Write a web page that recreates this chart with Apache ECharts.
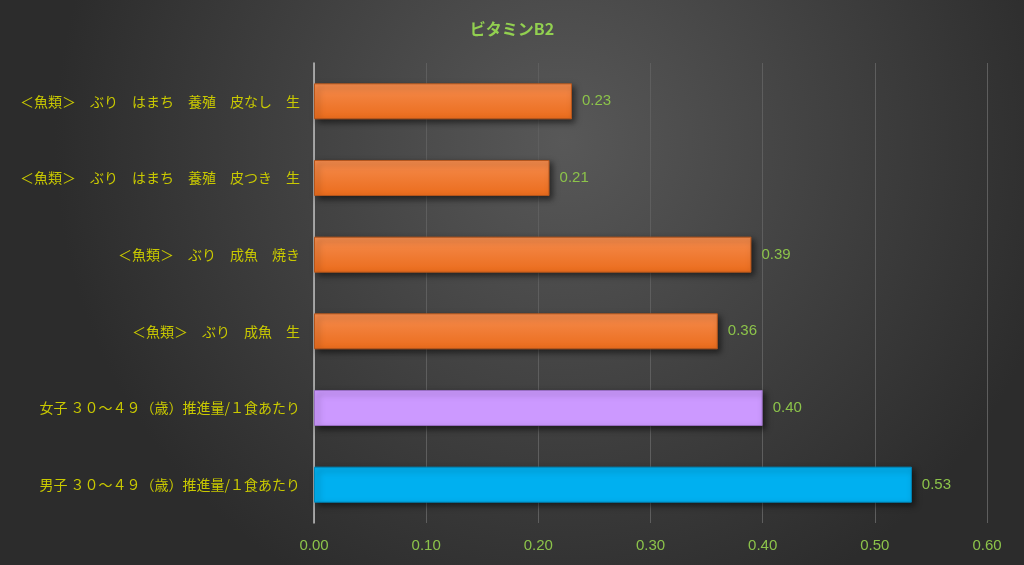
<!DOCTYPE html>
<html>
<head>
<meta charset="utf-8">
<script src="https://cdn.jsdelivr.net/npm/echarts@6/dist/echarts.min.js"></script>
<style>
  html, body { margin: 0; padding: 0; }
  #chart { width: 1024px; height: 565px; }
</style>
</head>
<body>
<div id="chart"></div>
<script>
  // top to bottom, as in the picture
  const categories = [
    "＜魚類＞　ぶり　はまち　養殖　皮なし　生",
    "＜魚類＞　ぶり　はまち　養殖　皮つき　生",
    "＜魚類＞　ぶり　成魚　焼き",
    "＜魚類＞　ぶり　成魚　生",
    "女子 ３０～４９（歳）推進量/１食あたり",
    "男子 ３０～４９（歳）推進量/１食あたり",
  ];
  const values = [0.23, 0.21, 0.39, 0.36, 0.4, 0.533];
  const xTicks = [0, 0.1, 0.2, 0.3, 0.4, 0.5, 0.6];

  const orange = new echarts.graphic.LinearGradient(0, 0, 0, 1, [
    { offset: 0, color: "#f58c4e" },
    { offset: 1, color: "#eb6c1c" },
  ]);
  const barColors = [orange, orange, orange, orange, "#cc99ff", "#00b0f0"];
  const borderColors = ["#b4561d", "#b4561d", "#b4561d", "#b4561d", "#9a6fc4", "#0088bb"];

  let myChart = echarts.init(document.getElementById("chart"));
  let option = {
    backgroundColor: new echarts.graphic.RadialGradient(0.55, 0.25, 0.9, [
      { offset: 0, color: "#585858" },
      { offset: 1, color: "#2c2c2c" },
    ]),
    textStyle: {
      fontFamily: "Noto Sans CJK JP",
    },
    title: {
      text: "ビタミンB2",
      left: "center",
      top: 16,
      textStyle: {
        color: "#92d050",
        fontSize: 16,
        fontWeight: "bold",
        fontFamily: "Noto Sans CJK JP",
      },
    },
    grid: {
      left: 314,
      right: 37,
      top: 63,
      bottom: 42,
      containLabel: false,
    },
    xAxis: {
      type: "value",
      min: 0,
      max: 0.6,
      interval: 0.1,
      axisLine: { show: false },
      axisTick: { show: false },
      axisLabel: {
        color: "#8cc34a",
        fontSize: 15,
        margin: 15,
        fontFamily: "Liberation Sans",
        formatter: function (v) {
          return v.toFixed(2);
        },
      },
      splitLine: {
        show: true,
        lineStyle: { color: "#5e5e5e", width: 1 },
      },
    },
    yAxis: {
      type: "category",
      data: categories,
      inverse: true,
      axisLine: {
        show: true,
        lineStyle: { color: "#bfbfbf", width: 1.5 },
      },
      axisTick: { show: false },
      axisLabel: {
        color: "#c9c900",
        fontSize: 14,
        margin: 14,
      },
    },
    series: [
      {
        type: "bar",
        data: values.map(function (v, i) {
          return {
            value: v,
            itemStyle: { color: barColors[i], borderColor: borderColors[i] },
          };
        }),
        barCategoryGap: "53%",
        itemStyle: {
          borderWidth: 1,
          shadowColor: "rgba(0,0,0,0.55)",
          shadowBlur: 6,
          shadowOffsetX: 3,
          shadowOffsetY: 3,
        },
        label: {
          show: true,
          position: "right",
          distance: 10,
          color: "#8cc34a",
          fontSize: 15,
          fontFamily: "Liberation Sans",
          formatter: function (p) {
            return p.value.toFixed(2);
          },
        },
      },
    ],
  };
  option && myChart.setOption(option);
</script>
</body>
</html>
